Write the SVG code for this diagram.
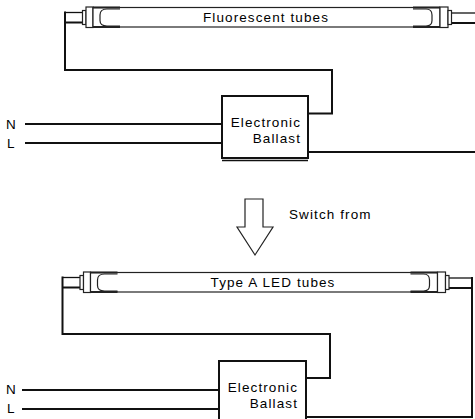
<svg xmlns="http://www.w3.org/2000/svg" width="475" height="419" viewBox="0 0 475 419">
<style>
.t{font-family:"Liberation Sans",Arial,sans-serif;font-size:13.5px;fill:#000;letter-spacing:1.1px}
.w{fill:none;stroke:#111;stroke-width:2;stroke-linejoin:miter}
.wt{fill:none;stroke:#111;stroke-width:1.3}
.o{fill:#fff;stroke:#222;stroke-width:1.2}
.ot{fill:none;stroke:#222;stroke-width:2.2}
.box{fill:#fff;stroke:#111;stroke-width:2}
</style>
<defs>
<g id="tube">
  <rect class="o" x="82.5" y="10.5" width="3.5" height="14"/>
  <rect class="o" x="86" y="7" width="7" height="20.5"/>
  <rect class="o" x="93" y="7.5" width="347" height="19.5"/>
  <path class="ot" d="M93,7.5 H120 M93,27 H120 M413,7.5 H440 M413,27 H440"/>
  <path class="o" d="M120,9 H107 Q100,9 100,15 V20.5 Q100,26 107,26 H120"/>
  <path class="o" d="M413,9 H426 Q432,9 432,15 V20.5 Q432,26 426,26 H413"/>
  <rect class="o" x="440" y="7" width="8" height="20.5"/>
  <rect class="o" x="448" y="10.5" width="3.5" height="14"/>
</g>
</defs>

<g id="connectors">
  <path class="wt" d="M65,12.5 H83"/>
  <path class="w" d="M65,22.5 H83"/>
  <path class="w" d="M65,11.5 V70 H332 V113.5 H308"/>
  <path class="wt" d="M451,13 H475"/>
  <path class="w" d="M451,23 H475"/>
  <path class="w" d="M25,124 H222"/>
  <path class="w" d="M25,143 H222"/>
  <path class="w" d="M308,152 H475"/>
  <path class="wt" d="M62.5,277.5 H80.5"/>
  <path class="w" d="M62.5,287.5 H80.5"/>
  <path class="w" d="M62.5,276.5 V334 H330 V378 H306"/>
  <path class="wt" d="M449,278 H472"/>
  <path class="w" d="M449,288 H472"/>
  <path class="w" d="M472,277 V417 H306"/>
  <path class="w" d="M22,390 H219"/>
  <path class="w" d="M22,409 H219"/>
</g>

<g id="tube-fluorescent">
  <use href="#tube"/>
  <text class="t" x="266" y="21.5" text-anchor="middle">Fluorescent tubes</text>
</g>

<g id="ballast-top">
  <rect class="box" x="222" y="96" width="86" height="62"/>
  <path class="wt" d="M222,160.5 H308"/>
  <text class="t" x="301" y="127" text-anchor="end">Electronic</text>
  <text class="t" x="301" y="143" text-anchor="end">Ballast</text>
</g>

<g id="labels-top">
  <text class="t" x="6" y="128.5">N</text>
  <text class="t" x="7" y="147.5">L</text>
</g>

<g id="switch-arrow">
  <polygon class="o" points="245,199 263,199 263,227 273,227 255,255 237,227 245,227"/>
  <text class="t" x="289" y="219">Switch from</text>
</g>

<g id="tube-led">
  <use href="#tube" transform="translate(-2.5,265)"/>
  <text class="t" x="273" y="286.5" text-anchor="middle">Type A LED tubes</text>
</g>

<g id="ballast-bottom">
  <rect class="box" x="219" y="361" width="87" height="62"/>
  <text class="t" x="298" y="392" text-anchor="end">Electronic</text>
  <text class="t" x="298" y="408" text-anchor="end">Ballast</text>
</g>

<g id="labels-bottom">
  <text class="t" x="6" y="394">N</text>
  <text class="t" x="7" y="413">L</text>
</g>
</svg>
